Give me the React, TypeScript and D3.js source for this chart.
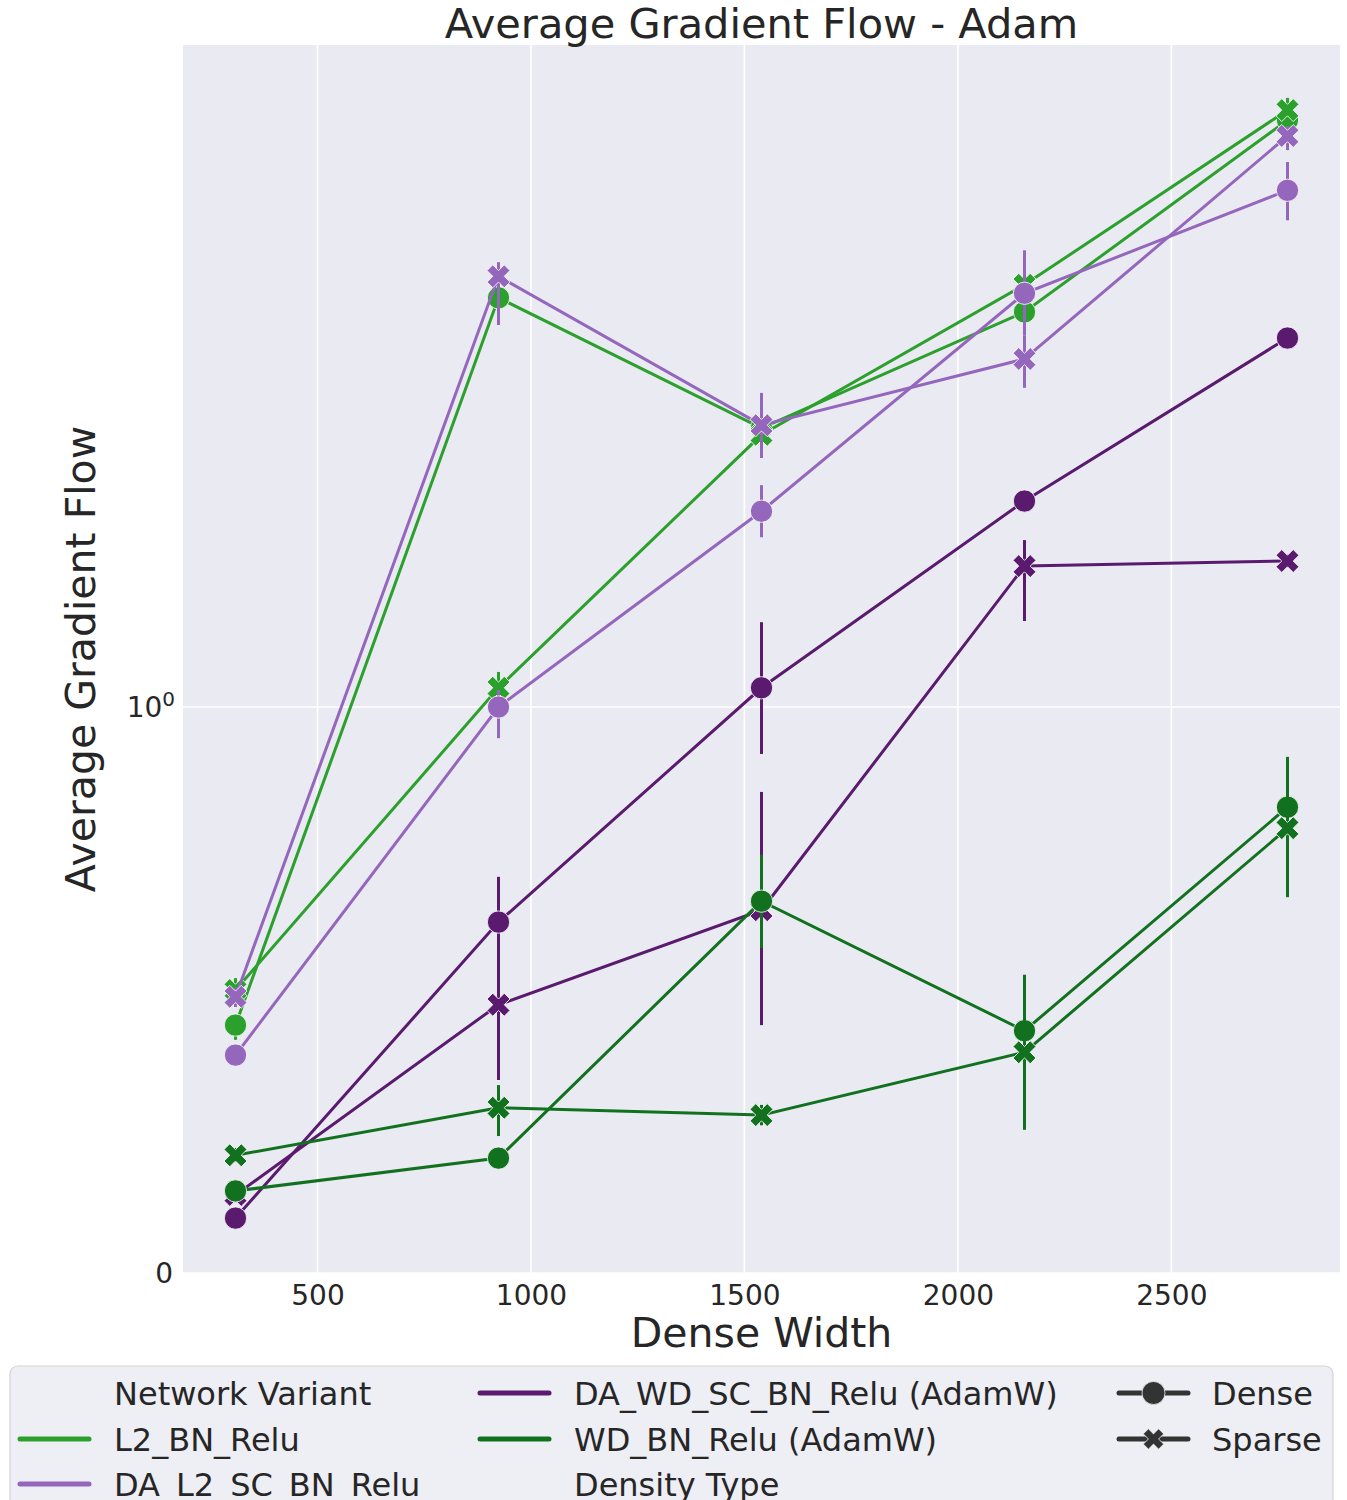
import { useEffect, useRef } from "react";
import * as d3 from "d3";

// dense widths on the x axis
const widths = [308, 924, 1540, 2156, 2772];
const xTicks = [500, 1000, 1500, 2000, 2500];

const variants = [
  "L2_BN_Relu",
  "DA_L2_SC_BN_Relu",
  "DA_WD_SC_BN_Relu (AdamW)",
  "WD_BN_Relu (AdamW)",
];
const densityTypes = ["Dense", "Sparse"];
const variantColors = ["#2ca02c", "#9467bd", "#5a1b6f", "#12711f"];

// mean gradient flow + [lo, hi] interval
const l2Dense = [0.438, 1.723, 1.493, 1.698, 2.097];
const l2DenseCi = [[0.412, 0.456], [1.675, 1.758], [1.477, 1.507], [1.675, 1.719], [2.05, 2.135]];
const l2Sparse = [0.5, 1.034, 1.481, 1.746, 2.145];
const l2SparseCi = [[0.482, 0.521], [1.004, 1.062], [1.468, 1.493], [1.728, 1.763], [2.088, 2.205]];

const daL2Dense = [0.385, 1.0, 1.346, 1.731, 1.913];
const daL2DenseCi = [[0.371, 0.399], [0.945, 1.03], [1.3, 1.392], [1.657, 1.807], [1.86, 1.963]];
const daL2Sparse = [0.488, 1.761, 1.498, 1.615, 2.023];
const daL2SparseCi = [[0.47, 0.504], [1.675, 1.786], [1.44, 1.555], [1.564, 1.657], [1.984, 2.069]];

const daWdDense = [0.097, 0.62, 1.034, 1.364, 1.652];
const daWdDenseCi = [[0.087, 0.108], [0.527, 0.7], [0.917, 1.15], [1.35, 1.378], [1.64, 1.663]];
const daWdSparse = [0.138, 0.474, 0.641, 1.249, 1.258];
const daWdSparseCi = [[0.125, 0.15], [0.341, 0.553], [0.438, 0.85], [1.152, 1.295], [1.247, 1.269]];

const wdDense = [0.145, 0.203, 0.657, 0.428, 0.823];
const wdDenseCi = [[0.133, 0.157], [0.189, 0.217], [0.574, 0.739], [0.376, 0.527], [0.73, 0.912]];
const wdSparse = [0.208, 0.292, 0.279, 0.39, 0.786];
const wdSparseCi = [[0.196, 0.221], [0.242, 0.332], [0.261, 0.297], [0.253, 0.465], [0.664, 0.871]];

const seriesValues = [
  [l2Dense, l2Sparse],
  [daL2Dense, daL2Sparse],
  [daWdDense, daWdSparse],
  [wdDense, wdSparse],
];
const seriesCi = [
  [l2DenseCi, l2SparseCi],
  [daL2DenseCi, daL2SparseCi],
  [daWdDenseCi, daWdSparseCi],
  [wdDenseCi, wdSparseCi],
];

// matplotlib symlog, base 10, linthresh 2, linscale 1
const LINTHRESH = 2;
const LINSCALE = 1 / (1 - 1 / 10);
const symlog = (v: number) =>
  Math.abs(v) <= LINTHRESH
    ? v * LINSCALE
    : Math.sign(v) * LINTHRESH * (LINSCALE + Math.log10(Math.abs(v) / LINTHRESH));

const yMax = 2.485;

const App = () => {
  const ref = useRef<SVGSVGElement | null>(null);

  useEffect(() => {
    document.body.style.margin = "0";
    if (!ref.current) return;
    const svg = d3.select(ref.current);
    svg.selectAll("*").remove();

    const font = "'DejaVu Sans', sans-serif";
    const ink = "#262626";
    const plot = { left: 183, right: 1340, top: 45, bottom: 1273 };

    const x = d3.scaleLinear().domain([185, 2895]).range([plot.left, plot.right]);
    const yT = d3.scaleLinear().domain([0, symlog(yMax)]).range([plot.bottom, plot.top]);
    const y = (v: number) => yT(symlog(v));

    svg
      .append("rect")
      .attr("width", 1347)
      .attr("height", 1500)
      .attr("fill", "#ffffff");

    svg
      .append("rect")
      .attr("x", plot.left)
      .attr("y", plot.top)
      .attr("width", plot.right - plot.left)
      .attr("height", plot.bottom - plot.top)
      .attr("fill", "#eaeaf2");

    const grid = svg.append("g").attr("stroke", "#ffffff").attr("stroke-width", 1.6);
    xTicks.forEach((t) => {
      grid
        .append("line")
        .attr("x1", x(t))
        .attr("x2", x(t))
        .attr("y1", plot.top)
        .attr("y2", plot.bottom);
    });
    [0, 1].forEach((t) => {
      grid
        .append("line")
        .attr("x1", plot.left)
        .attr("x2", plot.right)
        .attr("y1", y(t))
        .attr("y2", y(t));
    });

    const circlePath = d3.symbol(d3.symbolCircle, 390)()!;
    const crossPath = d3.symbol(d3.symbolCross, 330)()!;

    const line = d3
      .line<number>()
      .x((_, i) => x(widths[i]))
      .y((d) => y(d));

    variants.forEach((_, vi) => {
      const color = variantColors[vi];
      densityTypes.forEach((_, di) => {
        const vals = seriesValues[vi][di];
        const ci = seriesCi[vi][di];
        const g = svg.append("g");

        g.append("path")
          .datum(vals)
          .attr("fill", "none")
          .attr("stroke", color)
          .attr("stroke-width", 3)
          .attr("d", line);

        g.selectAll("line.err")
          .data(ci)
          .enter()
          .append("line")
          .attr("class", "err")
          .attr("x1", (_, i) => x(widths[i]))
          .attr("x2", (_, i) => x(widths[i]))
          .attr("y1", (d) => y(d[0]))
          .attr("y2", (d) => y(d[1]))
          .attr("stroke", color)
          .attr("stroke-width", 3);

        g.selectAll("path.mark")
          .data(vals)
          .enter()
          .append("path")
          .attr("class", "mark")
          .attr("d", di === 0 ? circlePath : crossPath)
          .attr(
            "transform",
            (d, i) => `translate(${x(widths[i])},${y(d)})${di === 1 ? " rotate(45)" : ""}`
          )
          .attr("fill", color)
          .attr("stroke", "#ffffff")
          .attr("stroke-width", 0.8);
      });
    });

    // x axis
    const xAxis = svg
      .append("g")
      .attr("transform", `translate(0,${plot.bottom})`)
      .call(d3.axisBottom(x).tickValues(xTicks).tickSize(0).tickPadding(12).tickFormat(d3.format("d")));
    xAxis.select(".domain").remove();
    xAxis
      .selectAll("text")
      .attr("font-family", font)
      .attr("font-size", 28)
      .attr("fill", ink);

    // y axis labels (symlog ticks)
    const yTicks = svg.append("g").attr("font-family", font).attr("font-size", 28).attr("fill", ink);
    yTicks
      .append("text")
      .attr("x", 173)
      .attr("y", y(0))
      .attr("dy", "0.36em")
      .attr("text-anchor", "end")
      .text("0");
    const ten = yTicks
      .append("text")
      .attr("x", 175)
      .attr("y", y(1))
      .attr("dy", "0.36em")
      .attr("text-anchor", "end");
    ten.append("tspan").text("10");
    ten.append("tspan").attr("dy", "-0.55em").attr("font-size", 20).text("0");

    svg
      .append("text")
      .attr("x", (plot.left + plot.right) / 2)
      .attr("y", 38)
      .attr("text-anchor", "middle")
      .attr("font-family", font)
      .attr("font-size", 41.5)
      .attr("fill", ink)
      .text("Average Gradient Flow - Adam");

    svg
      .append("text")
      .attr("x", (plot.left + plot.right) / 2)
      .attr("y", 1347)
      .attr("text-anchor", "middle")
      .attr("font-family", font)
      .attr("font-size", 41)
      .attr("fill", ink)
      .text("Dense Width");

    svg
      .append("text")
      .attr("transform", `translate(95,${(plot.top + plot.bottom) / 2}) rotate(-90)`)
      .attr("text-anchor", "middle")
      .attr("font-family", font)
      .attr("font-size", 41)
      .attr("fill", ink)
      .text("Average Gradient Flow");

    // legend
    const lg = svg.append("g").attr("font-family", font).attr("font-size", 32).attr("fill", ink);
    lg.append("rect")
      .attr("x", 10)
      .attr("y", 1366)
      .attr("width", 1323)
      .attr("height", 170)
      .attr("rx", 8)
      .attr("fill", "#eeeef5")
      .attr("stroke", "#d4d4d8")
      .attr("stroke-width", 1.2);

    const rows = [1393, 1439, 1484];
    const cols = [
      { hx: 20, tx: 114 },
      { hx: 480, tx: 574 },
      { hx: 1119, tx: 1212 },
    ];
    type Entry = { label: string; color?: string; marker?: number };
    const entries: Entry[] = [
      { label: "Network Variant" },
      ...variants.map((v, i) => ({ label: v, color: variantColors[i] })),
      { label: "Density Type" },
      ...densityTypes.map((d, i) => ({ label: d, color: "#333333", marker: i })),
    ];
    entries.forEach((e, k) => {
      const c = cols[Math.floor(k / 3)];
      const ry = rows[k % 3];
      if (e.color) {
        lg.append("line")
          .attr("x1", c.hx)
          .attr("x2", c.hx + 69)
          .attr("y1", ry)
          .attr("y2", ry)
          .attr("stroke", e.color)
          .attr("stroke-width", 5)
          .attr("stroke-linecap", "round");
      }
      if (e.marker !== undefined) {
        lg.append("path")
          .attr("d", e.marker === 0 ? d3.symbol(d3.symbolCircle, 415)()! : d3.symbol(d3.symbolCross, 260)()!)
          .attr("transform", `translate(${c.hx + 34.5},${ry})${e.marker === 1 ? " rotate(45)" : ""}`)
          .attr("fill", "#333333")
          .attr("stroke", "#eeeef5")
          .attr("stroke-width", 0.8);
      }
      lg.append("text").attr("x", c.tx).attr("y", ry).attr("dy", "0.36em").text(e.label);
    });
  }, []);

  return <svg ref={ref} width={1347} height={1500} style={{ display: "block" }} />;
};

export default App;
